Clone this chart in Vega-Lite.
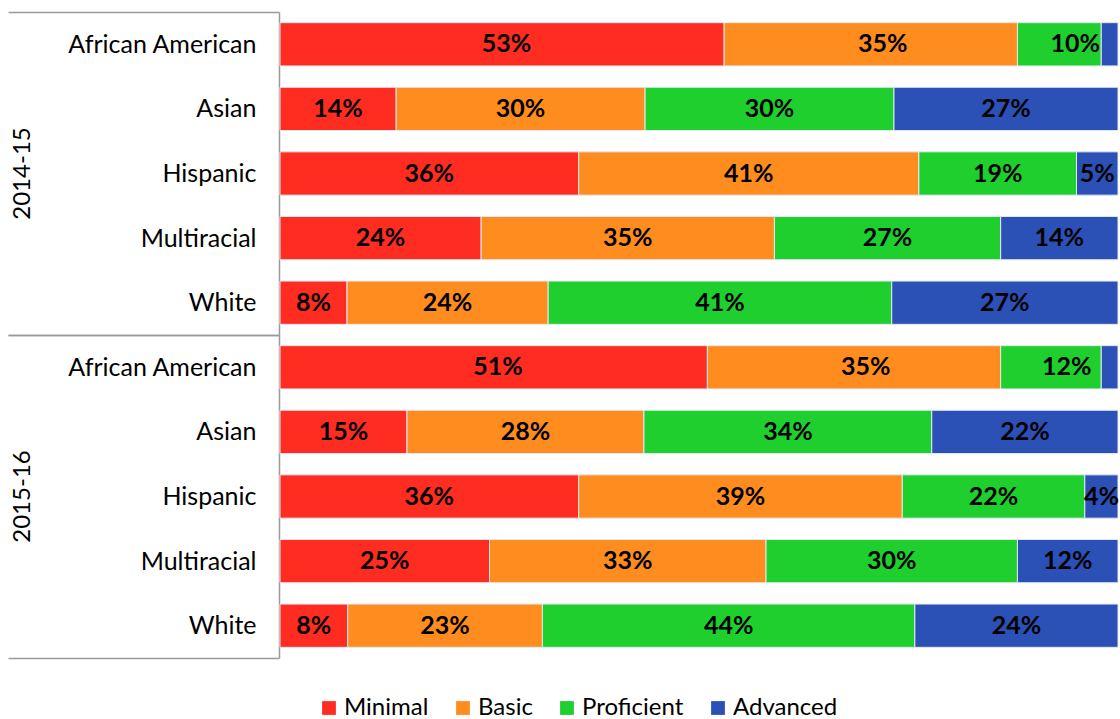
{
  "$schema": "https://vega.github.io/schema/vega-lite/v6.json",
  "background": "white",
  "padding": {"left": 7, "top": 0, "right": 3, "bottom": 0},
  "data": {"values": [
    {"year": "2014-15", "group": "African American", "level": "Minimal", "value": 0.53},
    {"year": "2014-15", "group": "African American", "level": "Basic", "value": 0.35},
    {"year": "2014-15", "group": "African American", "level": "Proficient", "value": 0.10},
    {"year": "2014-15", "group": "African American", "level": "Advanced", "value": 0.02},
    {"year": "2014-15", "group": "Asian", "level": "Minimal", "value": 0.14},
    {"year": "2014-15", "group": "Asian", "level": "Basic", "value": 0.30},
    {"year": "2014-15", "group": "Asian", "level": "Proficient", "value": 0.30},
    {"year": "2014-15", "group": "Asian", "level": "Advanced", "value": 0.27},
    {"year": "2014-15", "group": "Hispanic", "level": "Minimal", "value": 0.36},
    {"year": "2014-15", "group": "Hispanic", "level": "Basic", "value": 0.41},
    {"year": "2014-15", "group": "Hispanic", "level": "Proficient", "value": 0.19},
    {"year": "2014-15", "group": "Hispanic", "level": "Advanced", "value": 0.05},
    {"year": "2014-15", "group": "Multiracial", "level": "Minimal", "value": 0.24},
    {"year": "2014-15", "group": "Multiracial", "level": "Basic", "value": 0.35},
    {"year": "2014-15", "group": "Multiracial", "level": "Proficient", "value": 0.27},
    {"year": "2014-15", "group": "Multiracial", "level": "Advanced", "value": 0.14},
    {"year": "2014-15", "group": "White", "level": "Minimal", "value": 0.08},
    {"year": "2014-15", "group": "White", "level": "Basic", "value": 0.24},
    {"year": "2014-15", "group": "White", "level": "Proficient", "value": 0.41},
    {"year": "2014-15", "group": "White", "level": "Advanced", "value": 0.27},
    {"year": "2015-16", "group": "African American", "level": "Minimal", "value": 0.51},
    {"year": "2015-16", "group": "African American", "level": "Basic", "value": 0.35},
    {"year": "2015-16", "group": "African American", "level": "Proficient", "value": 0.12},
    {"year": "2015-16", "group": "African American", "level": "Advanced", "value": 0.02},
    {"year": "2015-16", "group": "Asian", "level": "Minimal", "value": 0.15},
    {"year": "2015-16", "group": "Asian", "level": "Basic", "value": 0.28},
    {"year": "2015-16", "group": "Asian", "level": "Proficient", "value": 0.34},
    {"year": "2015-16", "group": "Asian", "level": "Advanced", "value": 0.22},
    {"year": "2015-16", "group": "Hispanic", "level": "Minimal", "value": 0.36},
    {"year": "2015-16", "group": "Hispanic", "level": "Basic", "value": 0.39},
    {"year": "2015-16", "group": "Hispanic", "level": "Proficient", "value": 0.22},
    {"year": "2015-16", "group": "Hispanic", "level": "Advanced", "value": 0.04},
    {"year": "2015-16", "group": "Multiracial", "level": "Minimal", "value": 0.25},
    {"year": "2015-16", "group": "Multiracial", "level": "Basic", "value": 0.33},
    {"year": "2015-16", "group": "Multiracial", "level": "Proficient", "value": 0.30},
    {"year": "2015-16", "group": "Multiracial", "level": "Advanced", "value": 0.12},
    {"year": "2015-16", "group": "White", "level": "Minimal", "value": 0.08},
    {"year": "2015-16", "group": "White", "level": "Basic", "value": 0.23},
    {"year": "2015-16", "group": "White", "level": "Proficient", "value": 0.44},
    {"year": "2015-16", "group": "White", "level": "Advanced", "value": 0.24}
  ]},
  "transform": [
    {"calculate": "indexof(['Minimal','Basic','Proficient','Advanced'], datum.level)", "as": "ord"}
  ],
  "facet": {
    "row": {
      "field": "year", "type": "nominal", "title": null,
      "header": {"labelOrient": "left", "labelAngle": -90, "labelFont": "Lato", "labelFontSize": 24, "labelColor": "black", "labelPadding": -40, "labelAlign": "center", "labelBaseline": "middle"}
    }
  },
  "spacing": 0,
  "spec": {
    "width": 838,
    "height": 323,
    "encoding": {
      "y": {
        "field": "group", "type": "nominal", "title": null,
        "scale": {"paddingInner": 0, "paddingOuter": 0},
        "axis": {
          "tickBand": "extent",
          "tickSize": 271,
          "tickColor": "#9a9a9a",
          "tickWidth": 1.5,
          "tickOpacity": {"condition": {"test": "datum.value === 'White' || datum.extra", "value": 1}, "value": 0},
          "domainColor": "#9a9a9a",
          "domainWidth": 1.5,
          "labelPadding": -248,
          "labelFont": "Lato",
          "labelFontSize": 25,
          "labelColor": "black",
          "labelLimit": 400
        }
      }
    },
    "layer": [
      {
        "mark": {"type": "bar", "height": {"band": 0.67}, "stroke": "#e4e9f4", "strokeWidth": 1},
        "encoding": {
          "x": {"field": "value", "type": "quantitative", "stack": "normalize", "axis": null, "scale": {"domain": [0, 1], "nice": false}},
          "color": {
            "field": "level", "type": "nominal", "title": null,
            "scale": {"domain": ["Minimal", "Basic", "Proficient", "Advanced"], "range": ["#ff2d21", "#ff8c1f", "#1ecf2e", "#2b50b6"]},
            "legend": {"orient": "none", "legendX": 37, "legendY": 684, "direction": "horizontal", "symbolType": "square", "symbolSize": 190, "symbolStrokeWidth": 0, "labelFont": "Lato", "labelFontSize": 24, "labelColor": "black", "columnPadding": 22, "labelOffset": 3}
          },
          "order": {"field": "ord", "type": "quantitative"}
        }
      },
      {
        "transform": [{"filter": "datum.value >= 0.03"}],
        "mark": {"type": "text", "font": "Lato", "fontWeight": "bold", "fontSize": 25, "fill": "black"},
        "encoding": {
          "x": {"field": "value", "type": "quantitative", "stack": "normalize", "bandPosition": 0.5},
          "detail": {"field": "level", "type": "nominal"},
          "order": {"field": "ord", "type": "quantitative"},
          "text": {"field": "value", "type": "quantitative", "format": ".0%"}
        }
      }
    ]
  },
  "config": {"view": {"stroke": null}}
}
